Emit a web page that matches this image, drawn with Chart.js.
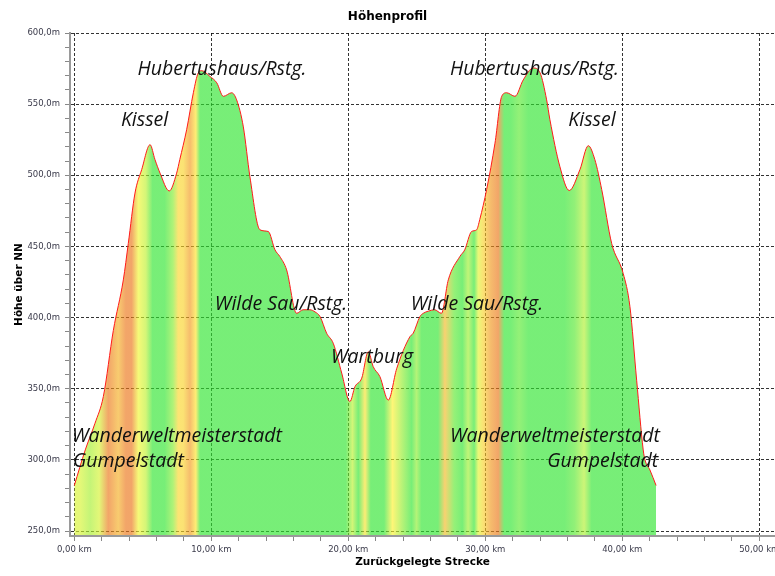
<!DOCTYPE html>
<html><head><meta charset="utf-8">
<script src="https://cdn.jsdelivr.net/npm/chart.js@4.4.1/dist/chart.umd.min.js"></script>
<style>html,body{margin:0;padding:0;background:#fff}#wrap{width:775px;height:576px;position:relative}</style>
</head><body><div id="wrap"><canvas id="c"></canvas></div>
<script>
// ---- data ----
const distanceKm = [0.00,0.80,1.51,2.12,2.85,3.58,3.94,4.43,4.92,5.53,5.89,6.26,6.93,7.47,7.70,8.20,8.69,9.05,9.30,9.90,10.40,10.88,11.49,11.85,12.34,12.82,13.55,14.16,14.65,15.00,15.50,16.23,16.70,17.20,17.57,17.94,18.42,18.90,19.52,20.12,20.49,20.98,21.46,21.82,22.31,22.92,23.53,24.50,24.74,25.23,25.47,25.84,26.30,26.80,27.30,28.15,28.50,29.00,29.37,29.60,30.10,30.71,31.20,31.56,32.17,32.77,33.50,34.00,34.48,34.72,35.45,36.13,36.91,37.52,38.00,38.50,39.23,40.07,40.56,41.05,41.53,41.66,42.02,42.47];
const elevationM = [282,307,325.7,344.5,391,426.5,452,487.5,504,521.5,511,501.5,489,501.5,511,532,558,572,573.5,569.5,565,555.5,558,553,534,499,461.7,460.5,447.6,443,433.5,403,405.5,405.5,404,400.7,389,382,361,341,351.5,357.4,376,365.5,358.5,342,364,386.6,389,400.7,403,404.5,405.5,403,426.5,443,447.6,460.5,461.7,469,490,522.6,555.5,558,555.5,567,575.4,572,553,539,506,489.3,504,520.8,511,490,452,431,407.7,356,307,300,292.9,282];
const xTicksKm = [0,2,4,6,8,10,12,14,16,18,20,22,24,26,28,30,32,34,36,38,40,42,44,46,48,50];
const xLabelKm = [0,10,20,30,40,50];
const yTicksM = [250,260,270,280,290,300,310,320,330,340,350,360,370,380,390,400,410,420,430,440,450,460,470,480,490,500,510,520,530,540,550,560,570,580,590,600];
const yLabelM = [250,300,350,400,450,500,550,600];
// place labels (anchored in data coordinates: km, m at text baseline)
const placeNames = ["Hubertushaus/Rstg.","Kissel","Wilde Sau/Rstg.","Wartburg","Wilde Sau/Rstg.","Hubertushaus/Rstg.","Kissel","Wanderweltmeisterstadt","Gumpelstadt","Wanderweltmeisterstadt","Gumpelstadt"];
const placeKm = [10.78,5.13,15.09,21.73,29.39,33.59,37.79,-0.17,-0.10,42.75,42.62];
const placeM = [570.7,534.8,405.1,367.8,405.1,570.7,534.8,312.4,294.8,312.4,294.8];
const placeAlign = ["center","center","center","center","center","center","center","left","left","right","right"];

// ---- styling helpers ----
const GREEN=[47,229,47], YELLOW=[255,247,47], ORANGE=[235,117,24], ALPHA=0.65;
function mix(a,b,t){return a.map((v,i)=>Math.round(v+(b[i]-v)*t));}
function gradeColor(s){
  let c;
  if(s<=1.5) c=GREEN;
  else if(s<3.5) c=mix(GREEN,YELLOW,(s-1.5)/2);
  else if(s<6) c=mix(YELLOW,ORANGE,(s-3.5)/2.5);
  else c=ORANGE;
  return `rgba(${c[0]},${c[1]},${c[2]},${ALPHA})`;
}
function fillGradient(context){
  const chart=context.chart; const {ctx, chartArea, scales}=chart;
  if(!chartArea) return `rgba(${GREEN.join(',')},${ALPHA})`;
  const xs=scales.x;
  const x0=xs.getPixelForValue(distanceKm[0]);
  const x1=xs.getPixelForValue(distanceKm[distanceKm.length-1]);
  const g=ctx.createLinearGradient(x0,0,x1,0);
  for(let i=0;i<distanceKm.length-1;i++){
    const s=(elevationM[i+1]-elevationM[i])/((distanceKm[i+1]-distanceKm[i])*1000)*100;
    const mid=(distanceKm[i]+distanceKm[i+1])/2;
    const off=(xs.getPixelForValue(mid)-x0)/(x1-x0);
    g.addColorStop(Math.min(1,Math.max(0,off)), gradeColor(s));
  }
  return g;
}
const fmtKm=v=>v.toFixed(2).replace('.',',')+' km';
const fmtM=v=>v.toFixed(1).replace('.',',')+'m';

const placeLabels={
  id:'placeLabels',
  afterDatasetsDraw(chart){
    const {ctx, scales:{x,y}}=chart;
    ctx.save();
    ctx.font='italic 19.5px "Open Sans"';
    ctx.fillStyle='#111';
    ctx.textBaseline='alphabetic';
    placeNames.forEach((t,i)=>{
      ctx.textAlign=placeAlign[i];
      ctx.fillText(t, x.getPixelForValue(placeKm[i]), y.getPixelForValue(placeM[i]));
    });
    ctx.restore();
  }
};

new Chart(document.getElementById('c'),{
  type:'line',
  data:{datasets:[{
    data: distanceKm.map((k,i)=>({x:k,y:elevationM[i]})),
    borderColor:'#ff1a1a', borderWidth:1, pointRadius:0,
    cubicInterpolationMode:'monotone',
    fill:'start', backgroundColor: fillGradient
  }]},
  options:{
    responsive:true, maintainAspectRatio:false, animation:false,
    layout:{padding:0},
    plugins:{
      legend:{display:false}, tooltip:{enabled:false},
      title:{display:true,text:'Höhenprofil',color:'#000',
        font:{family:'DejaVu Sans',size:12,weight:'bold'},padding:{top:10,bottom:8.6}}
    },
    scales:{
      x:{type:'linear',min:-0.314,max:51.15,
        afterBuildTicks:s=>{s.ticks=xTicksKm.map(v=>({value:v}));},
        afterFit:s=>{s.height=40;s.paddingLeft=0;s.paddingRight=0;},
        ticks:{autoSkip:false,maxRotation:0,padding:4,color:'#3a3a4a',
          font:{family:'DejaVu Sans',size:8.5},
          callback:v=>xLabelKm.includes(v)?fmtKm(v):''},
        grid:{color:c=>xLabelKm.includes(c.tick&&c.tick.value)?'rgba(0,0,0,0.8)':'rgba(0,0,0,0)',
          tickColor:'#888',tickLength:5,lineWidth:1},
        border:{display:true,color:'#9a9a9a',width:2,dash:[3,2],z:1},
        title:{display:true,text:'Zurückgelegte Strecke',color:'#000',
          font:{family:'DejaVu Sans',size:10.5,weight:'bold'},padding:{top:0,bottom:7}}
      },
      y:{type:'linear',min:246.5,max:600,
        afterBuildTicks:s=>{s.ticks=yTicksM.map(v=>({value:v}));},
        afterFit:s=>{s.width=70;s.paddingTop=0;s.paddingBottom=0;},
        ticks:{autoSkip:false,padding:5,color:'#3a3a4a',
          font:{family:'DejaVu Sans',size:8.5},
          callback:v=>yLabelM.includes(v)?fmtM(v):''},
        grid:{color:c=>yLabelM.includes(c.tick&&c.tick.value)?'rgba(0,0,0,0.8)':'rgba(0,0,0,0)',
          tickColor:'#888',tickLength:5,lineWidth:1},
        border:{display:true,color:'#9a9a9a',width:2,dash:[3,2],z:1},
        title:{display:true,text:'Höhe über NN',color:'#000',
          font:{family:'DejaVu Sans',size:10.5,weight:'bold'},padding:{top:13,bottom:0}}
      }
    }
  },
  plugins:[placeLabels]
});
</script>
</body></html>
